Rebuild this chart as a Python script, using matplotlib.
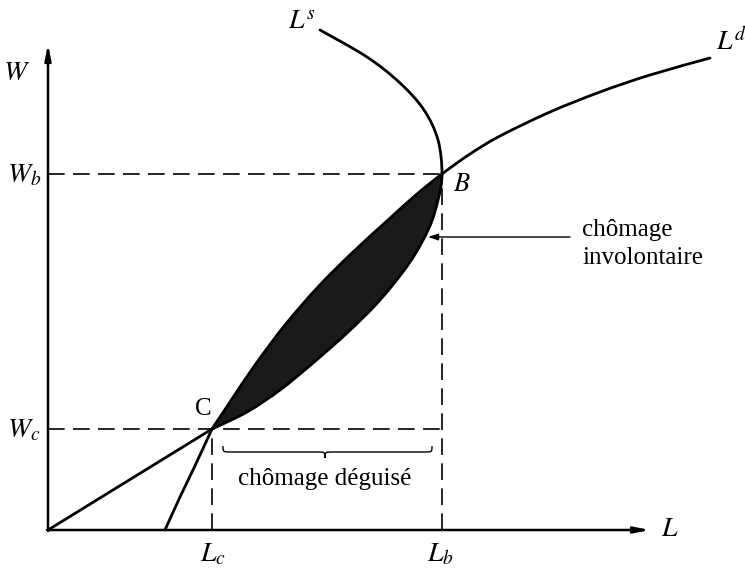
import numpy as np
import matplotlib
matplotlib.use("Agg")
import matplotlib.pyplot as plt
from matplotlib.path import Path
from matplotlib.patches import PathPatch

plt.rcParams['mathtext.fontset'] = 'stix'
plt.rcParams['font.family'] = ['Liberation Serif', 'DejaVu Serif']

# ---- data (L, W) in diagram units ----
point_C = (164, 101)
point_B = (394, 356)

# demand curve L^d
Ld_low_L = [0, 164]
Ld_low_W = [0, 101]
Ld_mid_L = [164, 182, 207, 237, 270, 304, 340, 369, 394]
Ld_mid_W = [101, 128, 165, 205, 243, 277, 310, 336, 356]
Ld_high_L = [394, 422, 452, 502, 552, 602, 662]
Ld_high_W = [356, 376, 394, 418, 438, 455, 472]

# supply curve L^s
Ls_low_L = [117, 132, 145, 164]
Ls_low_W = [0, 33, 60, 101]
Ls_mid_L = [164, 199, 232, 265, 299, 332, 362, 381, 390, 394]
Ls_mid_W = [101, 118, 140, 167, 197, 230, 268, 302, 330, 356]
Ls_high_L = [394, 390, 376, 352, 319, 272]
Ls_high_W = [356, 390, 420, 447, 473, 500]

tick_labels = {'Wb': r'$W_b$', 'Wc': r'$W_c$', 'Lc': r'$L_c$', 'Lb': r'$L_b$'}


def smooth_path(xs, ys):
    """Catmull-Rom -> cubic Bezier path through the given points."""
    P = np.column_stack([xs, ys]).astype(float)
    n = len(P)
    verts = [P[0]]
    codes = [Path.MOVETO]
    for i in range(n - 1):
        p0 = P[i - 1] if i > 0 else P[i]
        p1 = P[i]
        p2 = P[i + 1]
        p3 = P[i + 2] if i + 2 < n else P[i + 1]
        c1 = p1 + (p2 - p0) / 6.0
        c2 = p2 - (p3 - p1) / 6.0
        verts += [c1, c2, p2]
        codes += [Path.CURVE4] * 3
    return np.array(verts), codes


fig = plt.figure(figsize=(7.45, 5.71), dpi=100)
ax = fig.add_axes([0, 0, 1, 1])
ax.set_xlim(-48, 697)
ax.set_ylim(-41, 530)
ax.axis('off')

lw_curve = 2.0

# shaded lens between the two curves
v1, c1 = smooth_path(Ld_mid_L, Ld_mid_W)
v2, c2 = smooth_path(Ls_mid_L[::-1], Ls_mid_W[::-1])
verts = np.vstack([v1, v2[1:], v1[:1]])
codes = c1 + c2[1:] + [Path.CLOSEPOLY]
ax.add_patch(PathPatch(Path(verts, codes), facecolor='#1a1a1a', edgecolor='none', zorder=3))

# full curves (one smooth path each above C)
Ld_full_L = Ld_mid_L + Ld_high_L[1:]
Ld_full_W = Ld_mid_W + Ld_high_W[1:]
Ls_full_L = Ls_mid_L + Ls_high_L[1:]
Ls_full_W = Ls_mid_W + Ls_high_W[1:]
for xs, ys in [(Ld_full_L, Ld_full_W), (Ls_low_L, Ls_low_W), (Ls_full_L, Ls_full_W)]:
    v, c = smooth_path(xs, ys)
    ax.add_patch(PathPatch(Path(v, c), facecolor='none', edgecolor='black', lw=lw_curve, zorder=4,
                           capstyle='round'))
ax.plot(Ld_low_L, Ld_low_W, color='black', lw=lw_curve, zorder=4)

# axes with arrows
ax.annotate('', xy=(0, 486), xytext=(0, -1),
            arrowprops=dict(arrowstyle='-|>,head_length=0.9,head_width=0.18', lw=1.8, color='black',
                            shrinkA=0, shrinkB=0))
ax.annotate('', xy=(602, 0), xytext=(-1, 0),
            arrowprops=dict(arrowstyle='-|>,head_length=0.9,head_width=0.18', lw=1.8, color='black',
                            shrinkA=0, shrinkB=0))

# dashed guides
dash = dict(color='black', lw=1.2, dashes=(10, 5), zorder=2)
ax.plot([0, point_B[0]], [point_B[1], point_B[1]], **dash)
ax.plot([0, point_B[0]], [point_C[1], point_C[1]], **dash)
ax.plot([point_C[0], point_C[0]], [0, point_C[1]], **dash)
ax.plot([point_B[0], point_B[0]], [0, point_B[1]], **dash)

# brace for "chômage déguisé"
bl, br, bc = 175, 384, 277
ytop, ymid, ytip = 84, 78, 72
bverts = [(bl, ytop), (bl, ymid), (bl, ymid), (bl + 8, ymid),
          (bc - 8, ymid), (bc, ymid), (bc, ymid), (bc, ytip),
          (bc, ymid), (bc, ymid), (bc + 8, ymid),
          (br - 8, ymid), (br, ymid), (br, ymid), (br, ytop)]
bcodes = [Path.MOVETO, Path.CURVE4, Path.CURVE4, Path.CURVE4,
          Path.LINETO, Path.CURVE4, Path.CURVE4, Path.CURVE4,
          Path.CURVE4, Path.CURVE4, Path.CURVE4,
          Path.LINETO, Path.CURVE4, Path.CURVE4, Path.CURVE4]
ax.add_patch(PathPatch(Path(bverts, bcodes), facecolor='none', edgecolor='black', lw=1.0))
ax.text(bc, 51, 'chômage déguisé', ha='center', va='center', fontsize=18)

# chômage involontaire pointer
ax.annotate('', xy=(380, 293), xytext=(522, 293),
            arrowprops=dict(arrowstyle='-|>,head_length=0.6,head_width=0.2', lw=1.0, color='black',
                            shrinkA=0, shrinkB=0), zorder=5)
ax.text(534, 286, 'chômage\ninvolontaire', ha='left', va='center', fontsize=18, linespacing=1.3)

# labels
ax.text(-31, 457, r'$W$', ha='center', va='center', fontsize=20)
ax.text(-24, 354, tick_labels['Wb'], ha='center', va='center', fontsize=20)
ax.text(-24, 99, tick_labels['Wc'], ha='center', va='center', fontsize=20)
ax.text(point_C[0] + 1, -25, tick_labels['Lc'], ha='center', va='center', fontsize=20)
ax.text(point_B[0] - 2, -25, tick_labels['Lb'], ha='center', va='center', fontsize=20)
ax.text(622, 0, r'$L$', ha='center', va='center', fontsize=20)
ax.text(155, 121, 'C', ha='center', va='center', fontsize=18)
ax.text(414, 345, r'$B$', ha='center', va='center', fontsize=19)
ax.text(254, 507, r'$L^s$', ha='center', va='center', fontsize=20)
ax.text(683, 487, r'$L^d$', ha='center', va='center', fontsize=20)

fig.savefig('out.png', dpi=100, facecolor='white')
